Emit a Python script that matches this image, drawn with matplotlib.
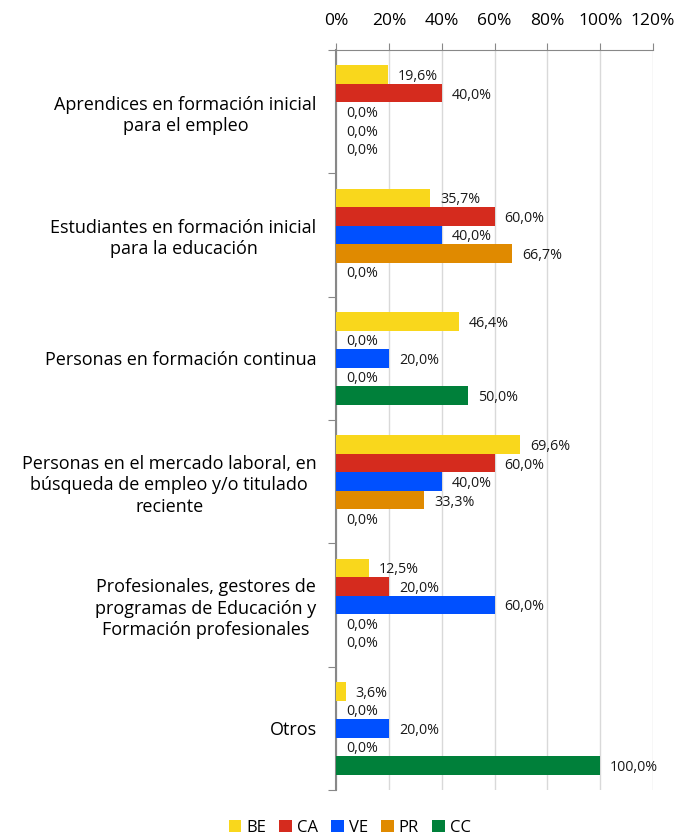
import matplotlib.pyplot as plt
import numpy as np
from matplotlib.ticker import FuncFormatter

plt.rcParams['font.family'] = ['Open Sans', 'DejaVu Sans']

# datos
categorias = ["Aprendices en formación inicial\npara el empleo",
              "Estudiantes en formación inicial\npara la educación",
              "Personas en formación continua",
              "Personas en el mercado laboral, en\nbúsqueda de empleo y/o titulado\nreciente",
              "Profesionales, gestores de\nprogramas de Educación y\nFormación profesionales",
              "Otros"]
series = ["BE", "CA", "VE", "PR", "CC"]
BE = [19.6, 35.7, 46.4, 69.6, 12.5, 3.6]
CA = [40.0, 60.0, 0.0, 60.0, 20.0, 0.0]
VE = [0.0, 40.0, 20.0, 40.0, 60.0, 20.0]
PR = [0.0, 66.7, 0.0, 33.3, 0.0, 0.0]
CC = [0.0, 0.0, 50.0, 0.0, 0.0, 100.0]
valores = [BE, CA, VE, PR, CC]
colores = ["#F9D71C", "#D52B1E", "#0050FF", "#E08A00", "#00803A"]

fig = plt.figure(figsize=(6.75, 8.36), dpi=100)
ax = fig.add_axes([0.4978, 0.055, 0.4696, 0.8852])

y = np.arange(len(categorias))
h = 0.15
for j, (s, v, c) in enumerate(zip(series, valores, colores)):
    pos = y + (j - 2) * h
    bars = ax.barh(pos, v, height=h, color=c, label=s, zorder=3)
    for b, val in zip(bars, v):
        ax.text(b.get_width() + 3.8, b.get_y() + h / 2 + 0.015,
                ("%.1f%%" % val).replace(".", ","),
                va='center', ha='left', fontsize=10.3, color='#1a1a1a', zorder=4)

ax.set_xlim(0, 120)
ax.set_ylim(len(categorias) - 0.5, -0.5)
ax.xaxis.tick_top()
ax.set_xticks(np.arange(0, 121, 20))
ax.xaxis.set_major_formatter(FuncFormatter(lambda x, p: "%d%%" % x))
ax.tick_params(axis='x', direction='out', length=5, color='#888888',
               labelsize=12.5, pad=10)

# ticks de categorias en los limites
ax.set_yticks(np.arange(-0.5, len(categorias), 1))
ax.set_yticklabels([])
ax.set_yticks(y, minor=True)
ax.set_yticklabels(categorias, minor=True, fontsize=13, multialignment='center',
                   linespacing=1.25)
ax.tick_params(axis='y', which='major', direction='out', length=6, color='#888888')
ax.tick_params(axis='y', which='minor', length=0, pad=14)

ax.grid(axis='x', color='#d9d9d9', linewidth=1, zorder=0)
for side in ['right', 'bottom']:
    ax.spines[side].set_visible(False)
ax.spines['top'].set_color('#888888')
ax.spines['left'].set_color('#888888')
ax.spines['left'].set_linewidth(1.5)

fig.legend(loc='lower center', bbox_to_anchor=(0.518, -0.018), ncol=5, frameon=False,
           fontsize=12, handlelength=0.75, handleheight=0.75, handletextpad=0.3,
           columnspacing=0.8)

plt.savefig("out.png", dpi=100)
plt.close('all')
